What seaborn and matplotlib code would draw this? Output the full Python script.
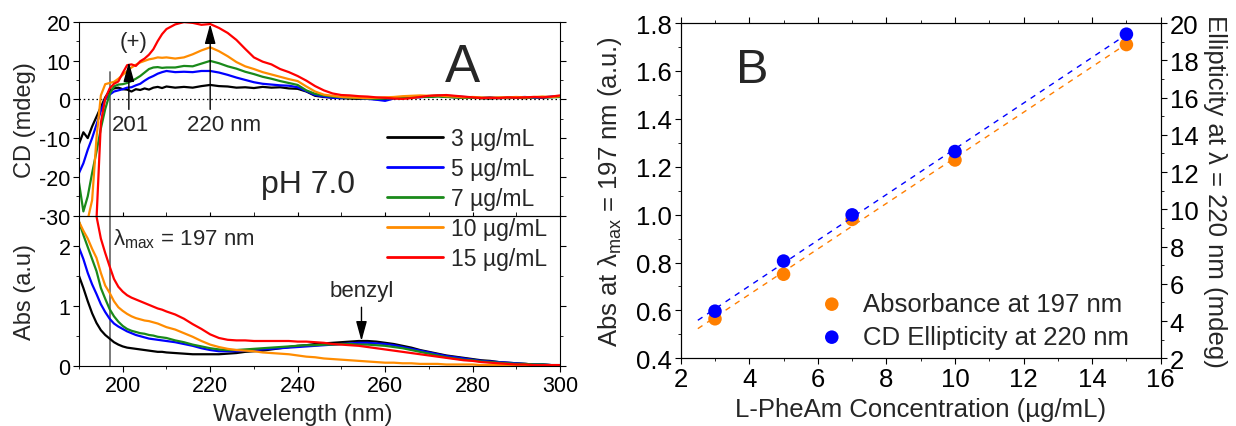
import numpy as np
import pandas as pd
import matplotlib
matplotlib.use("Agg")
import matplotlib.pyplot as plt
from matplotlib.ticker import MultipleLocator, FormatStrFormatter
import seaborn as sns

# ---------------- data ----------------
wavelength = list(range(190, 211)) + list(range(212, 301, 2))
conc_labels = ["3 µg/mL", "5 µg/mL", "7 µg/mL", "10 µg/mL", "15 µg/mL"]
line_colors = ["#000000", "#0000FF", "#1A8A1A", "#FF8C00", "#FF0000"]

cd_3 = [-11.5, -8.5, -10.0, -7.0, -4.5, -2.0, 0.5, 2.2, 2.8, 3.0, 2.6,
        2.5, 2.0, 2.6, 2.4, 2.8, 2.5, 3.0, 3.2, 2.9, 3.3,
        3.0, 3.2, 3.0, 3.4, 3.7, 3.4, 3.3, 3.0, 3.1, 2.9,
        3.2, 3.0, 3.1, 2.8, 2.7, 2.0, 0.9, 0.6, 0.4, 0.3,
        0.2, 0.1, 0.3, 0.0, 0.1, 0.4, 0.3, 0.6, 0.7, 0.6,
        0.9, 0.7, 0.5, 0.4, 0.5, 0.3, 0.2, 0.4, 0.3, 0.4,
        0.3, 0.5, 0.4, 0.6, 0.7]
cd_5 = [-19.0, -16.5, -13.0, -10.0, -6.5, -3.0, 0.0, 1.2, 2.0, 2.3, 2.6,
        3.0, 3.1, 3.6, 4.0, 4.8, 5.5, 6.0, 6.6, 7.0, 7.3,
        7.0, 7.1, 7.0, 7.3, 7.3, 6.9, 6.3, 5.6, 5.0, 4.4,
        4.0, 3.8, 3.6, 3.5, 3.1, 2.1, 1.1, 0.7, 0.4, 0.3,
        0.4, 0.3, 0.1, -0.1, -0.4, 0.2, 0.4, 0.6, 0.5, 0.8,
        1.0, 0.9, 0.8, 0.6, 0.5, 0.4, 0.5, 0.3, 0.4, 0.5,
        0.6, 0.4, 0.5, 0.7, 0.8]
cd_7 = [-21.5, -28.9, -25.0, -19.0, -13.5, -7.5, -2.5, 1.3, 3.3, 3.8, 3.9,
        4.2, 4.7, 5.3, 6.0, 6.9, 7.8, 8.2, 8.3, 8.1, 8.2,
        8.2, 8.6, 8.5, 9.2, 9.9, 9.3, 8.5, 7.9, 7.1, 6.5,
        5.8, 5.3, 4.7, 4.2, 3.7, 2.3, 1.4, 1.0, 0.7, 0.5,
        0.4, 0.3, 0.2, 0.1, 0.2, 0.3, 0.4, 0.5, 0.6, 0.6,
        0.7, 0.6, 0.5, 0.4, 0.4, 0.3, 0.4, 0.3, 0.4, 0.5,
        0.4, 0.5, 0.6, 0.5, 0.6]
cd_10 = [-48.0, -40.0, -31.0, -26.0, -10.0, 1.0, 3.9, 4.2, 4.5, 5.3, 6.3,
         7.3, 8.2, 8.9, 9.5, 9.9, 10.3, 10.5, 10.8, 10.7, 10.8,
         10.5, 10.8, 11.6, 12.6, 13.4, 12.4, 11.1, 9.6, 8.5, 7.8,
         7.0, 6.4, 5.8, 5.2, 4.7, 3.3, 2.0, 1.2, 0.9, 0.6,
         0.5, 0.4, 0.3, 0.4, 0.5, 0.6, 0.8, 0.9, 1.0, 0.9,
         1.0, 0.8, 0.7, 0.5, 0.6, 0.5, 0.4, 0.5, 0.5, 0.6,
         0.5, 0.6, 0.7, 0.6, 0.8]
cd_15 = [-55.0, -50.0, -45.0, -38.0, -31.0, -6.0, 0.2, 2.8, 4.0, 4.6, 6.8,
         8.8, 9.0, 8.6, 9.8, 10.5, 11.5, 12.9, 15.0, 16.8, 18.1,
         19.3, 19.9, 19.7, 19.2, 19.4, 18.4, 17.1, 15.3, 13.0, 10.8,
         9.7, 9.0, 7.8, 7.0, 6.0, 4.8, 3.4, 2.3, 1.5, 1.1,
         1.0, 0.8, 0.7, 0.5, 0.4, 0.2, 0.1, 0.3, 0.6, 0.9,
         1.0, 1.1, 0.9, 0.7, 0.5, 0.3, 0.4, 0.3, 0.5, 0.4,
         0.5, 0.6, 0.5, 0.7, 1.0]

abs_3 = [1.50, 1.30, 1.08, 0.88, 0.72, 0.60, 0.52, 0.46, 0.40, 0.36, 0.33,
         0.31, 0.30, 0.29, 0.28, 0.27, 0.26, 0.25, 0.24, 0.24, 0.23,
         0.22, 0.21, 0.20, 0.20, 0.20, 0.20, 0.21, 0.22, 0.24, 0.25,
         0.26, 0.28, 0.30, 0.32, 0.34, 0.35, 0.37, 0.38, 0.39, 0.40,
         0.41, 0.42, 0.42, 0.41, 0.39, 0.37, 0.34, 0.31, 0.27, 0.24,
         0.21, 0.18, 0.16, 0.14, 0.12, 0.10, 0.09, 0.07, 0.06, 0.05,
         0.04, 0.03, 0.03, 0.02, 0.02]
abs_5 = [1.97, 1.78, 1.55, 1.36, 1.20, 1.03, 0.90, 0.79, 0.71, 0.66, 0.62,
         0.58, 0.55, 0.52, 0.50, 0.48, 0.46, 0.45, 0.44, 0.43, 0.42,
         0.40, 0.37, 0.34, 0.30, 0.27, 0.25, 0.25, 0.25, 0.26, 0.27,
         0.28, 0.29, 0.30, 0.31, 0.32, 0.33, 0.34, 0.35, 0.36, 0.37,
         0.38, 0.39, 0.39, 0.38, 0.37, 0.35, 0.32, 0.29, 0.26, 0.23,
         0.20, 0.17, 0.15, 0.13, 0.11, 0.09, 0.08, 0.07, 0.06, 0.05,
         0.04, 0.03, 0.03, 0.02, 0.02]
abs_7 = [2.40, 2.18, 1.98, 1.78, 1.58, 1.30, 1.12, 0.95, 0.83, 0.74, 0.67,
         0.62, 0.59, 0.57, 0.55, 0.54, 0.52, 0.51, 0.49, 0.48, 0.47,
         0.43, 0.40, 0.36, 0.33, 0.30, 0.28, 0.27, 0.27, 0.28, 0.29,
         0.30, 0.31, 0.32, 0.33, 0.34, 0.35, 0.35, 0.36, 0.36, 0.37,
         0.37, 0.36, 0.36, 0.35, 0.34, 0.32, 0.30, 0.27, 0.24, 0.21,
         0.18, 0.15, 0.13, 0.11, 0.10, 0.08, 0.07, 0.06, 0.05, 0.04,
         0.04, 0.03, 0.03, 0.02, 0.02]
abs_10 = [2.40, 2.25, 2.12, 1.95, 1.80, 1.55, 1.34, 1.22, 1.08, 0.98, 0.92,
          0.87, 0.83, 0.80, 0.78, 0.76, 0.75, 0.73, 0.71, 0.68, 0.65,
          0.61, 0.55, 0.49, 0.42, 0.36, 0.32, 0.29, 0.27, 0.26, 0.25,
          0.23, 0.22, 0.21, 0.20, 0.18, 0.16, 0.15, 0.13, 0.12, 0.11,
          0.10, 0.09, 0.08, 0.07, 0.06, 0.06, 0.05, 0.05, 0.04, 0.04,
          0.04, 0.03, 0.03, 0.03, 0.03, 0.02, 0.02, 0.02, 0.02, 0.02,
          0.02, 0.01, 0.01, 0.01, 0.01]
abs_15 = [3.60, 3.30, 3.00, 2.75, 2.49, 2.12, 1.88, 1.66, 1.45, 1.32, 1.24,
          1.18, 1.14, 1.11, 1.08, 1.05, 1.02, 0.99, 0.96, 0.94, 0.91,
          0.86, 0.79, 0.70, 0.62, 0.53, 0.47, 0.44, 0.43, 0.43, 0.42,
          0.42, 0.42, 0.42, 0.42, 0.41, 0.41, 0.40, 0.39, 0.37, 0.36,
          0.35, 0.34, 0.32, 0.30, 0.28, 0.26, 0.24, 0.22, 0.20, 0.18,
          0.16, 0.14, 0.12, 0.10, 0.09, 0.07, 0.06, 0.05, 0.04, 0.03,
          0.03, 0.02, 0.02, 0.02, 0.02]

cd_series = [cd_3, cd_5, cd_7, cd_10, cd_15]
abs_series = [abs_3, abs_5, abs_7, abs_10, abs_15]

# panel B
concentration = [3, 5, 7, 10, 15]
abs_197 = [0.565, 0.751, 0.980, 1.228, 1.710]
ellip_220 = [4.53, 7.22, 9.70, 13.10, 19.40]

# ---------------- style ----------------
sns.set_style("ticks")
plt.rcParams["font.family"] = ["Liberation Sans", "DejaVu Sans"]
plt.rcParams["mathtext.fontset"] = "custom"
plt.rcParams["mathtext.rm"] = "Liberation Sans"
plt.rcParams["mathtext.it"] = "Liberation Sans:italic"
plt.rcParams["mathtext.bf"] = "Liberation Sans:bold"
plt.rcParams["axes.unicode_minus"] = False
plt.rcParams["axes.edgecolor"] = "black"
plt.rcParams["axes.linewidth"] = 0.8
for a in ("xtick", "ytick"):
    plt.rcParams[f"{a}.color"] = "black"
    plt.rcParams[f"{a}.labelcolor"] = "black"

W, H = 1236, 427
fig = plt.figure(figsize=(W / 100, H / 100), dpi=100)

def frac(x0, y0, x1, y1):
    return [x0 / W, 1 - y1 / H, (x1 - x0) / W, (y1 - y0) / H]

ax_ab = fig.add_axes(frac(79, 216.7, 560, 367.3))
ax_cd = fig.add_axes(frac(79, 22.7, 560, 216.7))
ax_ab.set_zorder(1)
ax_cd.set_zorder(2)
ax_cd.patch.set_alpha(0)
ax_b = fig.add_axes(frac(680.7, 24, 1160.7, 359.3))
ax_b2 = ax_b.twinx()

A_TICK = 15.5
A_LAB = 17
B_FS = 18.5

# ---------------- panel A: CD ----------------
for vals, lab, col in zip(cd_series, conc_labels, line_colors):
    sns.lineplot(x=wavelength, y=vals, ax=ax_cd, color=col, lw=1.6, label=lab, sort=False)
ax_cd.axhline(0, color="black", lw=0.9, ls=(0, (1.2, 2.2)), zorder=1)
ax_cd.axvline(197, ymin=0, ymax=(7 + 30) / 50, color="#707070", lw=1.3, zorder=1)
ax_cd.set_xlim(190, 300)
ax_cd.set_ylim(-30, 20)
ax_cd.yaxis.set_major_locator(MultipleLocator(10))
ax_cd.yaxis.set_minor_locator(MultipleLocator(5))
ax_cd.xaxis.set_major_locator(MultipleLocator(20))
ax_cd.xaxis.set_minor_locator(MultipleLocator(10))
ax_cd.tick_params(axis="x", which="both", labelbottom=False, bottom=True, top=False, direction="in",
                  length=3)
ax_cd.tick_params(axis="y", which="both", left=True, right=True, direction="out", labelsize=A_TICK,
                  pad=2)
ax_cd.tick_params(axis="y", which="major", length=4)
ax_cd.tick_params(axis="y", which="minor", length=2.4)
ax_cd.set_xlabel("")
ax_cd.set_ylabel("CD (mdeg)", fontsize=A_LAB)
ax_cd.yaxis.set_label_coords(-0.089, 0.5)

arrow_kw = dict(arrowstyle="-|>,head_length=0.8,head_width=0.22", color="black", lw=1.0,
                shrinkA=0, shrinkB=0, mutation_scale=15)
ax_cd.annotate("", xy=(201.4, 9.6), xytext=(201.4, -2.6), arrowprops=arrow_kw)
ax_cd.annotate("", xy=(220.0, 19.4), xytext=(220.0, -2.6), arrowprops=arrow_kw)
ax_cd.text(202.4, 15.0, "(+)", fontsize=16, ha="center", va="center")
ax_cd.text(201.7, -6.6, "201", fontsize=16, ha="center", va="center")
ax_cd.text(223.2, -6.6, "220 nm", fontsize=16, ha="center", va="center")
ax_cd.text(242.4, -24.0, "pH 7.0", fontsize=23, ha="center", va="baseline")
ax_cd.text(277.6, 4.6, "A", fontsize=38, ha="center", va="baseline")

leg = ax_cd.legend(loc="upper left", bbox_to_anchor=(0.64, 0.455), frameon=False, fontsize=16.5,
                   handlelength=2.45, handletextpad=0.35, labelspacing=0.3, borderpad=0,
                   borderaxespad=0)
for ln in leg.get_lines():
    ln.set_linewidth(2.0)
leg.set_zorder(10)

# ---------------- panel A: absorbance ----------------
for vals, col in zip(abs_series, line_colors):
    sns.lineplot(x=wavelength, y=vals, ax=ax_ab, color=col, lw=1.6, sort=False, legend=False)
ax_ab.axvline(197, color="#707070", lw=1.3, zorder=1)
ax_ab.set_xlim(190, 300)
ax_ab.set_ylim(0, 2.5)
ax_ab.xaxis.set_major_locator(MultipleLocator(20))
ax_ab.xaxis.set_minor_locator(MultipleLocator(10))
ax_ab.yaxis.set_major_locator(MultipleLocator(1))
ax_ab.yaxis.set_minor_locator(MultipleLocator(0.5))
ax_ab.tick_params(axis="both", which="both", direction="out", labelsize=A_TICK, pad=2)
ax_ab.tick_params(axis="y", which="both", right=True)
ax_ab.tick_params(which="major", length=4)
ax_ab.tick_params(which="minor", length=2.4)
ax_ab.set_xlabel("Wavelength (nm)", fontsize=A_LAB)
ax_ab.set_ylabel("Abs (a.u)", fontsize=A_LAB)
ax_ab.yaxis.set_label_coords(-0.089, 0.5)
ax_ab.xaxis.set_label_coords(0.465, -0.245)
ax_ab.text(197.8, 2.03, r"$\mathregular{λ_{max}}$ = 197 nm", fontsize=16, ha="left", va="baseline")
ax_ab.text(254.6, 1.16, "benzyl", fontsize=16, ha="center", va="baseline")
ax_ab.annotate("", xy=(254.6, 0.42), xytext=(254.6, 0.98), arrowprops=arrow_kw)

# ---------------- panel B ----------------
orange_b = "#FF7F00"
blue_b = "#0000FF"
xfit = np.array([2.5, 15.0])
p_abs = np.polyfit(concentration, abs_197, 1)
p_cd = np.polyfit(concentration, ellip_220, 1)
sns.lineplot(x=xfit, y=np.polyval(p_abs, xfit), ax=ax_b, color=orange_b, lw=1.0,
             linestyle=(0, (4, 4)), legend=False)
sns.scatterplot(x=concentration, y=abs_197, ax=ax_b, color=orange_b, s=95, edgecolor="none",
                label="Absorbance at 197 nm", legend=False, zorder=3)
sns.lineplot(x=xfit, y=np.polyval(p_cd, xfit), ax=ax_b2, color=blue_b, lw=1.0,
             linestyle=(0, (4, 4)), legend=False)
sns.scatterplot(x=concentration, y=ellip_220, ax=ax_b2, color=blue_b, s=95, edgecolor="none",
                label="CD Ellipticity at 220 nm", legend=False, zorder=3)

ax_b.set_xlim(2, 16)
ax_b.set_ylim(0.4, 1.8)
ax_b2.set_ylim(2, 20)
ax_b.xaxis.set_major_locator(MultipleLocator(2))
ax_b.xaxis.set_minor_locator(MultipleLocator(1))
ax_b.yaxis.set_major_locator(MultipleLocator(0.2))
ax_b.yaxis.set_minor_locator(MultipleLocator(0.1))
ax_b.yaxis.set_major_formatter(FormatStrFormatter("%.1f"))
ax_b2.yaxis.set_major_locator(MultipleLocator(2))
ax_b2.yaxis.set_minor_locator(MultipleLocator(1))
ax_b.tick_params(axis="both", which="both", direction="out", labelsize=B_FS, pad=2)
ax_b.tick_params(axis="x", which="both", top=True)
ax_b.tick_params(axis="x", which="both", labeltop=False)
ax_b.tick_params(which="major", length=4.5)
ax_b.tick_params(which="minor", length=2.5)
ax_b2.tick_params(axis="y", which="both", direction="out", labelsize=B_FS, pad=2)
ax_b2.tick_params(which="major", length=4.5)
ax_b2.tick_params(which="minor", length=2.5)
for s in ax_b2.spines.values():
    s.set_color("black")
    s.set_linewidth(0.8)

ax_b.set_xlabel("L-PheAm Concentration (µg/mL)", fontsize=B_FS)
ax_b.set_ylabel(r"Abs at $\mathregular{λ_{max}}$ = 197 nm (a.u.)", fontsize=B_FS)
ax_b2.set_ylabel("Ellipticity at λ = 220 nm (mdeg)", fontsize=B_FS, rotation=270)
ax_b.yaxis.set_label_coords(-0.118, 0.5)
ax_b2.yaxis.set_label_coords(1.1375, 0.5)
ax_b.xaxis.set_label_coords(0.5, -0.115)
ax_b.text(4.08, 1.554, "B", fontsize=35, ha="center", va="baseline")

h1, l1 = ax_b.get_legend_handles_labels()
h2, l2 = ax_b2.get_legend_handles_labels()
ax_b2.legend(h1 + h2, l1 + l2, loc="upper left", bbox_to_anchor=(0.288, 0.198), frameon=False,
             fontsize=B_FS, handlelength=1.0, handletextpad=0.7, labelspacing=0.35,
             borderpad=0, borderaxespad=0, markerscale=1.0)

fig.savefig("out.png", dpi=100)
